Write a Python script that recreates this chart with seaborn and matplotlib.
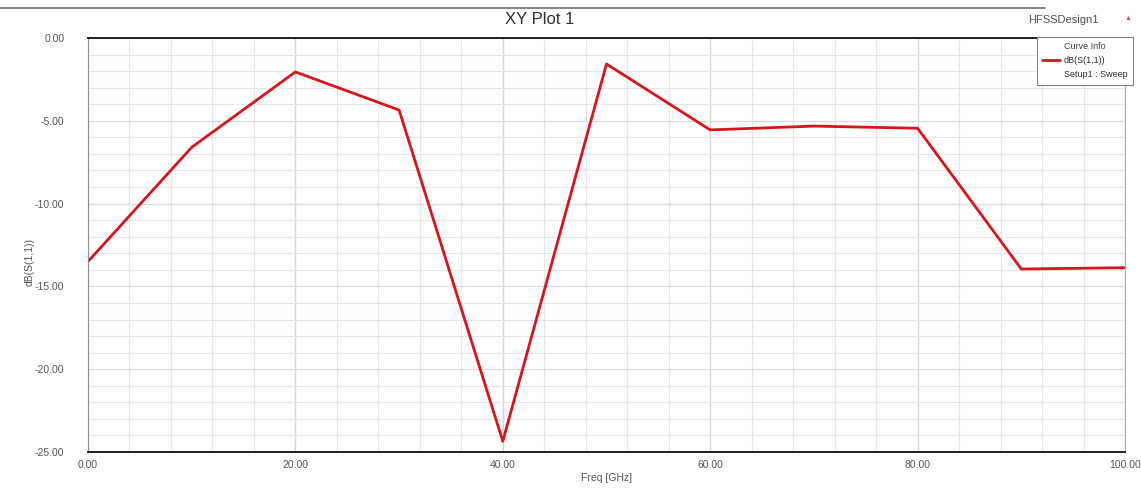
from matplotlib import pyplot as plt
from matplotlib.lines import Line2D
from matplotlib.ticker import MultipleLocator, FormatStrFormatter
import numpy as np
import pandas as pd
import seaborn as sns

# Values
freq_ghz = [0, 10, 20, 30, 40, 50, 60, 70, 80, 90, 100]
s11_db = [-13.5, -6.6, -2.05, -4.35, -24.35, -1.57, -5.55, -5.32, -5.45, -13.95, -13.87]

x_ticks = [0, 20, 40, 60, 80, 100]
y_ticks = [0, -5, -10, -15, -20, -25]

df = pd.DataFrame({"Freq": freq_ghz, "dB": s11_db})

sns.set_style("white")
plt.rcParams["font.family"] = ["Liberation Sans", "DejaVu Sans"]

fig = plt.figure(figsize=(11.41, 4.88), dpi=100)
ax = fig.add_axes([88 / 1141, 1 - 452 / 488, (1125 - 88) / 1141, (452 - 38) / 488])

sns.lineplot(data=df, x="Freq", y="dB", ax=ax, color="#d8141c", linewidth=2.0, label="dB(S(1,1))")

ax.set_xlim(0, 100)
ax.set_ylim(-25, 0)
ax.set_xticks(x_ticks)
ax.set_yticks(y_ticks)
ax.xaxis.set_major_formatter(FormatStrFormatter("%.2f"))
ax.yaxis.set_major_formatter(FormatStrFormatter("%.2f"))
ax.xaxis.set_minor_locator(MultipleLocator(4))
ax.yaxis.set_minor_locator(MultipleLocator(1))

ax.grid(which="both", color="#e6e6e6", linewidth=0.8)
ax.grid(which="major", axis="x", color="#d6d6d6", linewidth=1.0)
ax.grid(which="major", axis="y", color="#dcdcdc", linewidth=0.9)
ax.set_axisbelow(True)

ax.tick_params(axis="both", which="major", labelsize=7.5, labelcolor="#555555",
               direction="out", length=4, color="#606060", width=0.8, pad=2)
ax.tick_params(axis="both", which="minor", direction="out", length=3, color="#909090", width=0.8)
ax.tick_params(axis="y", which="major", length=14, pad=3)
ax.tick_params(axis="x", which="minor", length=2)

for side in ["top", "bottom"]:
    ax.spines[side].set_color("#202020")
    ax.spines[side].set_linewidth(1.4)
ax.spines["left"].set_color("#909090")
ax.spines["right"].set_color("#b0b0b0")

ax.set_xlabel("Freq [GHz]", fontsize=7.5, color="#555555", va="center")
ax.set_ylabel("dB(S(1,1))", fontsize=7.5, color="#555555", va="center")
ax.yaxis.set_label_coords(-0.056, 0.46)
ax.xaxis.set_label_coords(0.5, -0.064)

fig.text(540 / 1141, 1 - 20 / 488, "XY Plot 1", ha="center", va="center", fontsize=12, color="#303030")
fig.text(1063 / 1141, 1 - 20 / 488, "HFSSDesign1", ha="center", va="center", fontsize=8, color="#505050")
fig.text(1128 / 1141, 1 - 18 / 488, "\u25b2", ha="center", va="center", fontsize=5, color="#c05050")

# window frame line at top
fig.add_artist(Line2D([0, 1045 / 1141], [1 - 8 / 488, 1 - 8 / 488], transform=fig.transFigure,
                      color="#707070", linewidth=1.2))

blank = Line2D([], [], color="none")
handles, labels = ax.get_legend_handles_labels()
leg = ax.legend(handles=[handles[0], blank], labels=[labels[0], "Setup1 : Sweep"],
                title="Curve Info", loc="upper right",
                bbox_to_anchor=(1133 / 1141, 1 - 37 / 488), bbox_transform=fig.transFigure,
                fontsize=6.5, title_fontsize=6.5, frameon=True, fancybox=False,
                edgecolor="#808080", framealpha=1, borderaxespad=0, handlelength=2.0,
                handletextpad=0.4, labelspacing=0.55, borderpad=0.6)
leg.get_frame().set_linewidth(0.8)
leg.get_title().set_color("#404040")
for t in leg.get_texts():
    t.set_color("#303030")

plt.savefig("out.png", dpi=100)
plt.close()
